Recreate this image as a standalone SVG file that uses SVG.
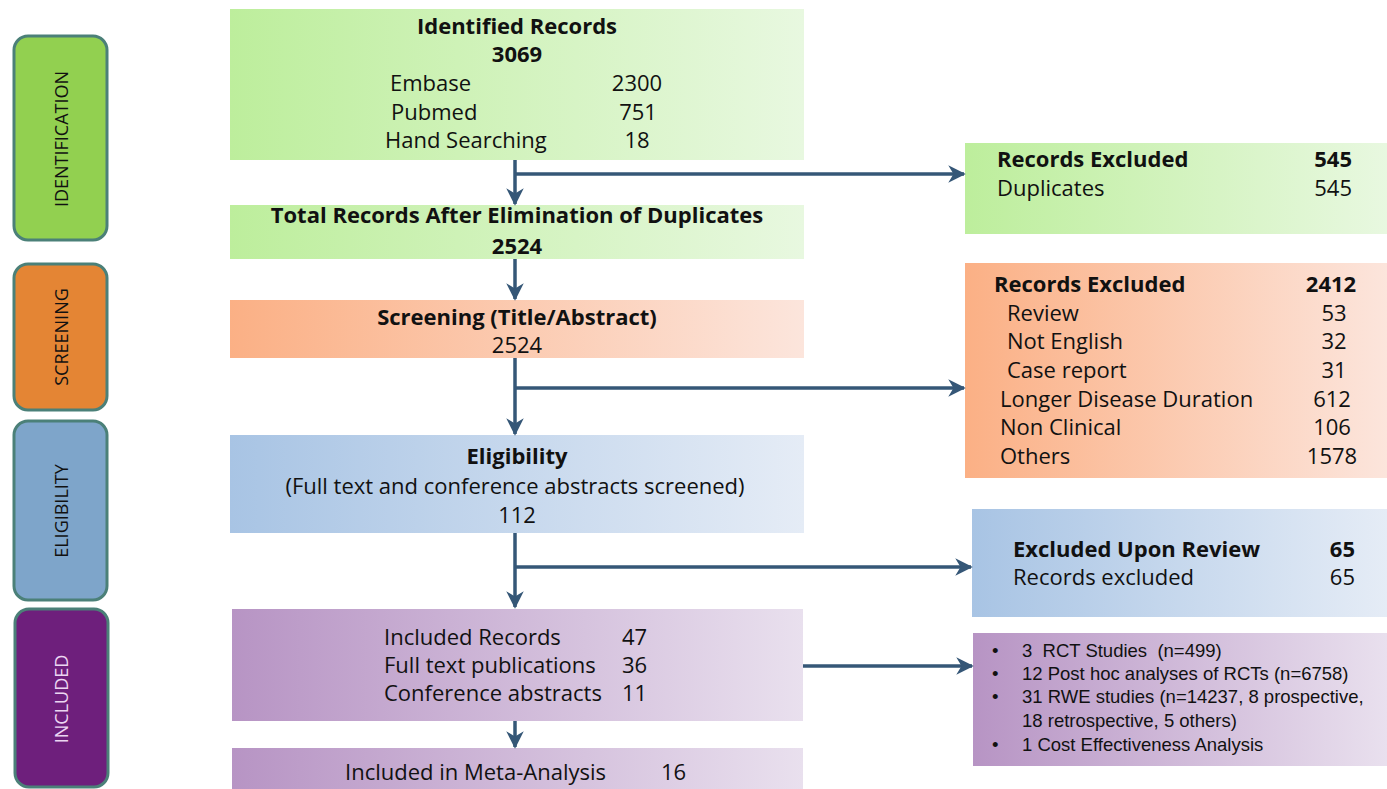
<svg xmlns="http://www.w3.org/2000/svg" width="1387" height="789" viewBox="0 0 1387 789">
<defs>
<linearGradient id="gGreen" x1="0" y1="0" x2="1" y2="0"><stop offset="0" stop-color="#bdee9c"/><stop offset="1" stop-color="#e8f8e0"/></linearGradient>
<linearGradient id="gOrange" x1="0" y1="0" x2="1" y2="0"><stop offset="0" stop-color="#fbb085"/><stop offset="1" stop-color="#fce5dc"/></linearGradient>
<linearGradient id="gBlue" x1="0" y1="0" x2="1" y2="0"><stop offset="0" stop-color="#a8c4e4"/><stop offset="1" stop-color="#e5ecf6"/></linearGradient>
<linearGradient id="gPurple" x1="0" y1="0" x2="1" y2="0"><stop offset="0" stop-color="#b794c4"/><stop offset="1" stop-color="#e9e0ee"/></linearGradient>
<marker id="arr" viewBox="0 0 10 10" refX="9" refY="5" markerWidth="5" markerHeight="5" markerUnits="strokeWidth" orient="auto">
<path d="M0,0 L10,5 L0,10 L3,5 z" fill="#355777"/>
</marker>
<style>
text{font-family:"Open Sans","Liberation Sans",sans-serif;font-size:22px;fill:#111}
.b{font-weight:bold}
.c{text-anchor:middle}
.r{text-anchor:end}
.side{font-size:18px;text-anchor:middle}
.sm{font-family:"Liberation Sans",Arial,sans-serif;font-size:18.5px;white-space:pre}
.conn{stroke:#355777;stroke-width:3.5;fill:none}
.stage{stroke:#4b8078;stroke-width:3}
</style>
</defs>

<g id="stage-identification">
<rect class="stage" x="14" y="36" width="93" height="204" rx="14" fill="#92d050"/>
<text class="side" transform="translate(68,139) rotate(-90)">IDENTIFICATION</text>
</g>
<g id="stage-screening">
<rect class="stage" x="14" y="264" width="93" height="146" rx="14" fill="#e48534"/>
<text class="side" transform="translate(68,337) rotate(-90)">SCREENING</text>
</g>
<g id="stage-eligibility">
<rect class="stage" x="14" y="421" width="93" height="179" rx="14" fill="#7ea5ca"/>
<text class="side" transform="translate(68,511) rotate(-90)">ELIGIBILITY</text>
</g>
<g id="stage-included">
<rect class="stage" x="15" y="609" width="93" height="178" rx="14" fill="#6e1f7c"/>
<text class="side" transform="translate(68,699) rotate(-90)" style="fill:#ecd6f2">INCLUDED</text>
</g>

<g id="identified">
<rect x="230" y="9" width="574" height="151" fill="url(#gGreen)"/>
<text class="b c" x="517" y="34">Identified Records</text>
<text class="b c" x="517" y="62">3069</text>
<text x="390" y="91">Embase</text><text class="c" x="637" y="91">2300</text>
<text x="391" y="120">Pubmed</text><text class="c" x="638" y="120">751</text>
<text x="385" y="148">Hand Searching</text><text class="c" x="637" y="148">18</text>
</g>

<g id="total">
<rect x="230" y="205" width="574" height="54" fill="url(#gGreen)"/>
<text class="b c" x="517" y="223">Total Records After Elimination of Duplicates</text>
<text class="b c" x="517" y="254">2524</text>
</g>

<g id="screening">
<rect x="230" y="300" width="574" height="58" fill="url(#gOrange)"/>
<text class="b c" x="517" y="325">Screening (Title/Abstract)</text>
<text class="c" x="517" y="353">2524</text>
</g>

<g id="eligibility">
<rect x="230" y="435" width="574" height="98" fill="url(#gBlue)"/>
<text class="b c" x="517" y="464">Eligibility</text>
<text class="c" x="515" y="494">(Full text and conference abstracts screened)</text>
<text class="c" x="517" y="523">112</text>
</g>

<g id="included">
<rect x="232" y="609" width="571" height="112" fill="url(#gPurple)"/>
<text x="384" y="645">Included Records</text><text x="622" y="645">47</text>
<text x="384" y="673">Full text publications</text><text x="622" y="673">36</text>
<text x="384" y="701">Conference abstracts</text><text x="622" y="701">11</text>
</g>

<g id="meta">
<rect x="232" y="748" width="571" height="45" fill="url(#gPurple)"/>
<text x="345" y="780">Included in Meta-Analysis</text><text x="661" y="780">16</text>
</g>

<g id="excluded-duplicates">
<rect x="965" y="143" width="422" height="91" fill="url(#gGreen)"/>
<text class="b" x="997" y="167">Records Excluded</text><text class="b r" x="1352" y="167">545</text>
<text x="997" y="196">Duplicates</text><text class="r" x="1352" y="196">545</text>
</g>

<g id="excluded-screening">
<rect x="965" y="263" width="422" height="215" fill="url(#gOrange)"/>
<text class="b" x="994" y="292">Records Excluded</text><text class="b c" x="1331" y="292">2412</text>
<text x="1007" y="321">Review</text><text class="c" x="1334" y="321">53</text>
<text x="1007" y="349">Not English</text><text class="c" x="1334" y="349">32</text>
<text x="1007" y="378">Case report</text><text class="c" x="1334" y="378">31</text>
<text x="1000" y="407">Longer Disease Duration</text><text class="c" x="1332" y="407">612</text>
<text x="1000" y="435">Non Clinical</text><text class="c" x="1332" y="435">106</text>
<text x="1000" y="464">Others</text><text class="c" x="1332" y="464">1578</text>
</g>

<g id="excluded-review">
<rect x="972" y="509" width="415" height="108" fill="url(#gBlue)"/>
<text class="b" x="1013" y="557">Excluded Upon Review</text><text class="b r" x="1355" y="557">65</text>
<text x="1013" y="585">Records excluded</text><text class="r" x="1355" y="585">65</text>
</g>

<g id="included-studies">
<rect x="973" y="633" width="414" height="133" fill="url(#gPurple)"/>
<text class="sm" x="992" y="657">•</text><text class="sm" x="1022" y="657">3  RCT Studies  (n=499)</text>
<text class="sm" x="992" y="680">•</text><text class="sm" x="1022" y="680">12 Post hoc analyses of RCTs (n=6758)</text>
<text class="sm" x="992" y="703">•</text><text class="sm" x="1022" y="703">31 RWE studies (n=14237, 8 prospective,</text>
<text class="sm" x="1022" y="727">18 retrospective, 5 others)</text>
<text class="sm" x="992" y="751">•</text><text class="sm" x="1022" y="751">1 Cost Effectiveness Analysis</text>
</g>

<g id="connectors">
<line class="conn" x1="515" y1="160" x2="515" y2="204" marker-end="url(#arr)"/>
<polyline class="conn" points="515,174 964,174" marker-end="url(#arr)"/>
<line class="conn" x1="515" y1="259" x2="515" y2="299" marker-end="url(#arr)"/>
<line class="conn" x1="515" y1="358" x2="515" y2="434" marker-end="url(#arr)"/>
<polyline class="conn" points="515,388 964,388" marker-end="url(#arr)"/>
<line class="conn" x1="515" y1="533" x2="515" y2="607" marker-end="url(#arr)"/>
<polyline class="conn" points="515,567 971,567" marker-end="url(#arr)"/>
<line class="conn" x1="803" y1="666" x2="972" y2="666" marker-end="url(#arr)"/>
<line class="conn" x1="515" y1="721" x2="515" y2="747" marker-end="url(#arr)"/>
</g>
</svg>
